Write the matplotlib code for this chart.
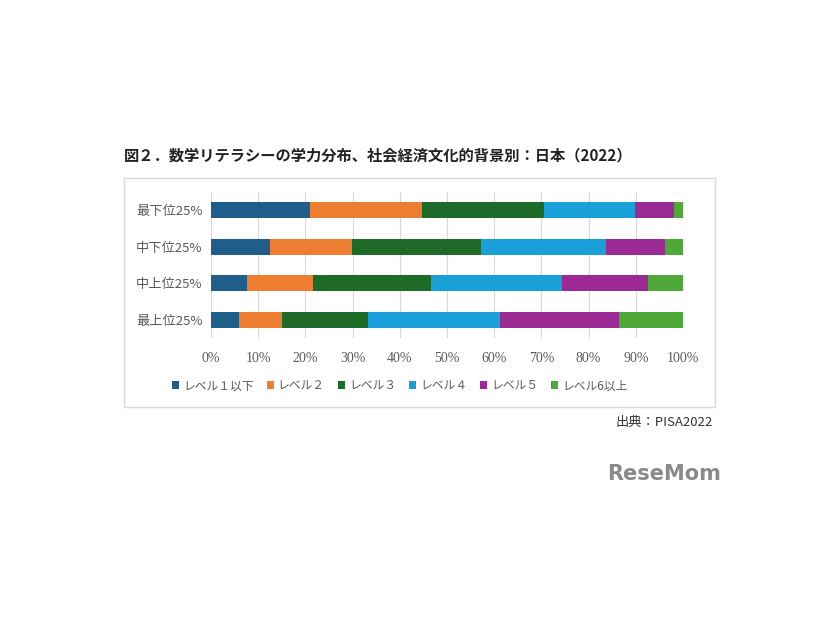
import numpy as np
import matplotlib.pyplot as plt
from matplotlib.patches import Rectangle

# データ
groups = ["最下位25%", "中下位25%", "中上位25%", "最上位25%"]
levels = ["レベル１以下", "レベル２", "レベル３", "レベル４", "レベル５", "レベル6以上"]
lv1 = [20.9, 12.4, 7.6, 5.9]
lv2 = [23.8, 17.5, 14.0, 9.2]
lv3 = [25.8, 27.4, 25.1, 18.1]
lv4 = [19.3, 26.3, 27.7, 28.0]
lv5 = [8.3, 12.6, 18.1, 25.3]
lv6 = [1.9, 3.8, 7.5, 13.5]
ticks = [0, 10, 20, 30, 40, 50, 60, 70, 80, 90, 100]

colors = ["#1f5e8a", "#ed7d31", "#1e6b29", "#19a0d8", "#9c2a94", "#4ea939"]

jp = ["Noto Sans CJK JP", "DejaVu Sans"]

fig = plt.figure(figsize=(8.26, 6.2), dpi=100)
W, H = 826, 620

# 外枠
fig.patches.append(Rectangle((124 / W, 1 - 407 / H), (715 - 124) / W, (407 - 178) / H,
                             transform=fig.transFigure, fill=False,
                             edgecolor="#d9d9d9", linewidth=1.0))

ax = fig.add_axes([211 / W, 1 - 338 / H, (683 - 211) / W, (338 - 192) / H])

y = np.arange(len(groups))
left = np.zeros(len(groups))
for vals, name, c in zip([lv1, lv2, lv3, lv4, lv5, lv6], levels, colors):
    ax.barh(y, vals, left=left, height=0.45, color=c, label=name, zorder=3)
    left = left + np.array(vals)

ax.set_xlim(0, 100)
ax.set_ylim(3.5, -0.5)
ax.set_xticks(ticks)
ax.set_xticklabels([f"{t}%" for t in ticks], family="Liberation Serif",
                   fontsize=10, color="#595959")
ax.set_yticks(y)
ax.set_yticklabels(groups, family=jp, fontsize=9.5, color="#595959")
ax.tick_params(axis="both", length=0)
ax.tick_params(axis="x", pad=10)
ax.tick_params(axis="y", pad=6)
ax.grid(axis="x", color="#d9d9d9", linewidth=0.8, zorder=0)
for s in ax.spines.values():
    s.set_visible(False)

leg = ax.legend(loc="upper center", bbox_to_anchor=(0.40, -0.21), ncol=6,
                frameon=False, handlelength=0.6, handleheight=0.6,
                handletextpad=0.35, columnspacing=1.1,
                prop={"family": jp, "size": 8.5})
for t in leg.get_texts():
    t.set_color("#595959")

fig.text(124 / W, 1 - 155 / H, "図２．数学リテラシーの学力分布、社会経済文化的背景別：日本（2022）",
         family=jp, fontsize=11, fontweight="bold", color="#222222", va="center")
fig.text(713 / W, 1 - 422 / H, "出典：PISA2022", family=jp, fontsize=9.5,
         color="#333333", ha="right", va="center")
fig.text(721 / W, 1 - 474 / H, "ReseMom", family="DejaVu Sans", fontsize=15,
         fontweight="bold", color="#8a8a8a", ha="right", va="center")

fig.savefig("out.png", dpi=100)
